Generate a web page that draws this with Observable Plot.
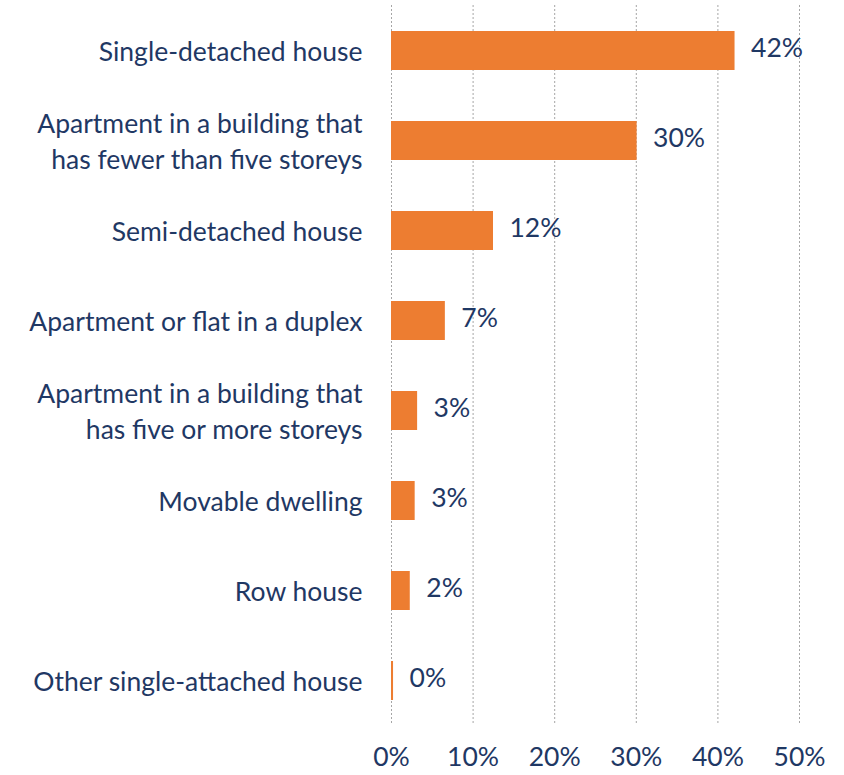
<!DOCTYPE html>
<html>
<head>
<meta charset="utf-8">
<script src="https://cdn.jsdelivr.net/npm/d3@7"></script>
<script src="https://cdn.jsdelivr.net/npm/@observablehq/plot@0.6"></script>
<style>
  html, body { margin: 0; padding: 0; background: #fff; }
  #chart svg { display: block; }
</style>
</head>
<body>
<div id="chart"></div>
<script>
const categories = [
  "Single-detached house",
  "Apartment in a building that\nhas fewer than five storeys",
  "Semi-detached house",
  "Apartment or flat in a duplex",
  "Apartment in a building that\nhas five or more storeys",
  "Movable dwelling",
  "Row house",
  "Other single-attached house"
];
const values = [42.1, 30.1, 12.5, 6.6, 3.2, 2.9, 2.3, 0.25];
const valueLabels = ["42%", "30%", "12%", "7%", "3%", "3%", "2%", "0%"];
const xTicks = [0, 10, 20, 30, 40, 50];

const data = categories.map((c, i) => ({cat: c, value: values[i], label: valueLabels[i]}));

const textColor = "#1f3864";
const font = "Lato, 'Open Sans', sans-serif";
const fs = 26.5;

const chart = Plot.plot({
  width: 844,
  height: 775,
  marginLeft: 391,
  marginRight: 45,
  marginTop: 5,
  marginBottom: 50,
  style: {fontFamily: font, fontSize: fs + "px", color: textColor, background: "#fff"},
  x: {domain: [0, 50], ticks: xTicks, label: null},
  y: {domain: categories, paddingInner: 0.57, paddingOuter: 0.285, label: null, axis: null},
  marks: [
    Plot.gridX(xTicks, {stroke: "#a6a6a6", strokeOpacity: 1, strokeDasharray: "2,2", strokeWidth: 1}),
    Plot.barX(data, {x: "value", y: "cat", fill: "#ed7d31"}),
    Plot.text(data, {x: "value", y: "cat", text: "label", textAnchor: "start", dx: 16, dy: -2, fill: textColor, fontSize: fs}),
    Plot.text(data, {x: 0, y: "cat", text: "cat", textAnchor: "end", dx: -29, dy: -2, fill: textColor, fontSize: fs, lineHeight: 1.36}),
    Plot.axisX(xTicks, {anchor: "bottom", tickSize: 0, tickPadding: 22, fontSize: fs, fill: textColor, tickFormat: d => d + "%", label: null}),
    Plot.ruleY([0], {frameAnchor: "bottom", stroke: "#a6a6a6", strokeWidth: 2.5})
  ]
});
document.getElementById("chart").appendChild(chart);
</script>
</body>
</html>
